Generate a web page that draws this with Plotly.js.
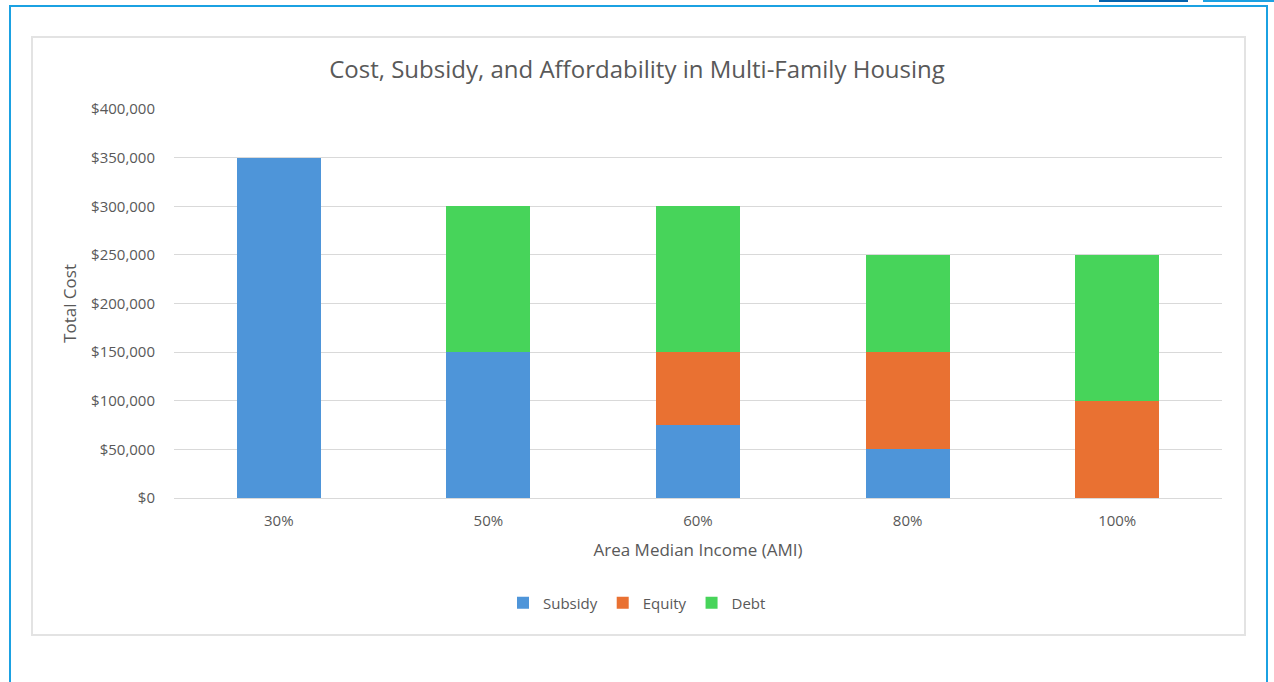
<!DOCTYPE html>
<html>
<head>
<meta charset="utf-8">
<script src="https://cdn.plot.ly/plotly-3.0.1.min.js"></script>
<style>
html,body{margin:0;padding:0;background:#fff;width:1274px;height:682px;overflow:hidden;}
#outer{position:absolute;left:9px;top:5px;width:1259px;height:700px;border:2px solid #1ba1e2;box-sizing:border-box;border-bottom:none;}
#tabA{position:absolute;left:1099px;top:0;width:89px;height:2px;background:#0563ad;}
#tabB{position:absolute;left:1203px;top:0;width:71px;height:2px;background:#1ba1e2;}
#box{position:absolute;left:31px;top:36px;width:1215px;height:600px;border:2px solid #e3e3e3;box-sizing:border-box;}
#chart{position:absolute;left:0;top:0;width:1274px;height:682px;}
</style>
</head>
<body>
<div id="outer"></div>
<div id="tabA"></div>
<div id="tabB"></div>
<div id="box"></div>
<div id="chart"></div>
<script>
const categories = ["30%", "50%", "60%", "80%", "100%"];
const subsidy = [350000, 150000, 75000, 50000, 0];
const equity = [0, 0, 75000, 100000, 100000];
const debt = [0, 150000, 150000, 100000, 150000];
const yTickVals = [0, 50000, 100000, 150000, 200000, 250000, 300000, 350000, 400000];
const yTickText = ["$0", "$50,000", "$100,000", "$150,000", "$200,000", "$250,000", "$300,000", "$350,000", "$400,000"];

const font = "'Open Sans', sans-serif";
const traces = [
  {type: "bar", name: "Subsidy", x: categories, y: subsidy, marker: {color: "#4e95d9"}, hoverinfo: "x+y+name"},
  {type: "bar", name: "Equity", x: categories, y: equity, marker: {color: "#e97132"}, hoverinfo: "x+y+name"},
  {type: "bar", name: "Debt", x: categories, y: debt, marker: {color: "#47d45a"}, hoverinfo: "x+y+name"}
];
const layout = {
  width: 1274, height: 682,
  paper_bgcolor: "rgba(0,0,0,0)", plot_bgcolor: "rgba(0,0,0,0)",
  barmode: "stack", bargap: 0.6,
  margin: {l: 174, r: 52, t: 109, b: 184},
  font: {family: font, color: "#595959", size: 15},
  title: {text: "Cost, Subsidy, and Affordability in Multi-Family Housing", font: {family: font, size: 24, color: "#595959"}, x: 0.5, xanchor: "center", y: 1 - 70/682, yanchor: "middle", yref: "container"},
  xaxis: {
    type: "category", showgrid: false, showline: true, linecolor: "#d9d9d9", linewidth: 1,
    ticks: "", ticklabelstandoff: 9, tickfont: {size: 15, color: "#595959"},
    title: {text: "Area Median Income (AMI)", font: {size: 17, color: "#595959"}, standoff: 15}
  },
  yaxis: {
    range: [0, 400000], tickvals: yTickVals, ticktext: yTickText,
    showgrid: true, gridcolor: "#d9d9d9", gridwidth: 1, zeroline: false, showline: false,
    ticks: "", ticklabelstandoff: 18, tickfont: {size: 15, color: "#595959"},
    title: {text: "Total Cost", font: {size: 17, color: "#595959"}, standoff: 10}
  },
  showlegend: true,
  legend: {orientation: "h", x: (637 - 174) / 1048, xanchor: "center", y: (498 - 603) / 389, yanchor: "middle", font: {size: 15, color: "#595959"}, itemwidth: 30, traceorder: "normal"}
};
Plotly.newPlot("chart", traces, layout, {displayModeBar: false, staticPlot: false});
</script>
</body>
</html>
